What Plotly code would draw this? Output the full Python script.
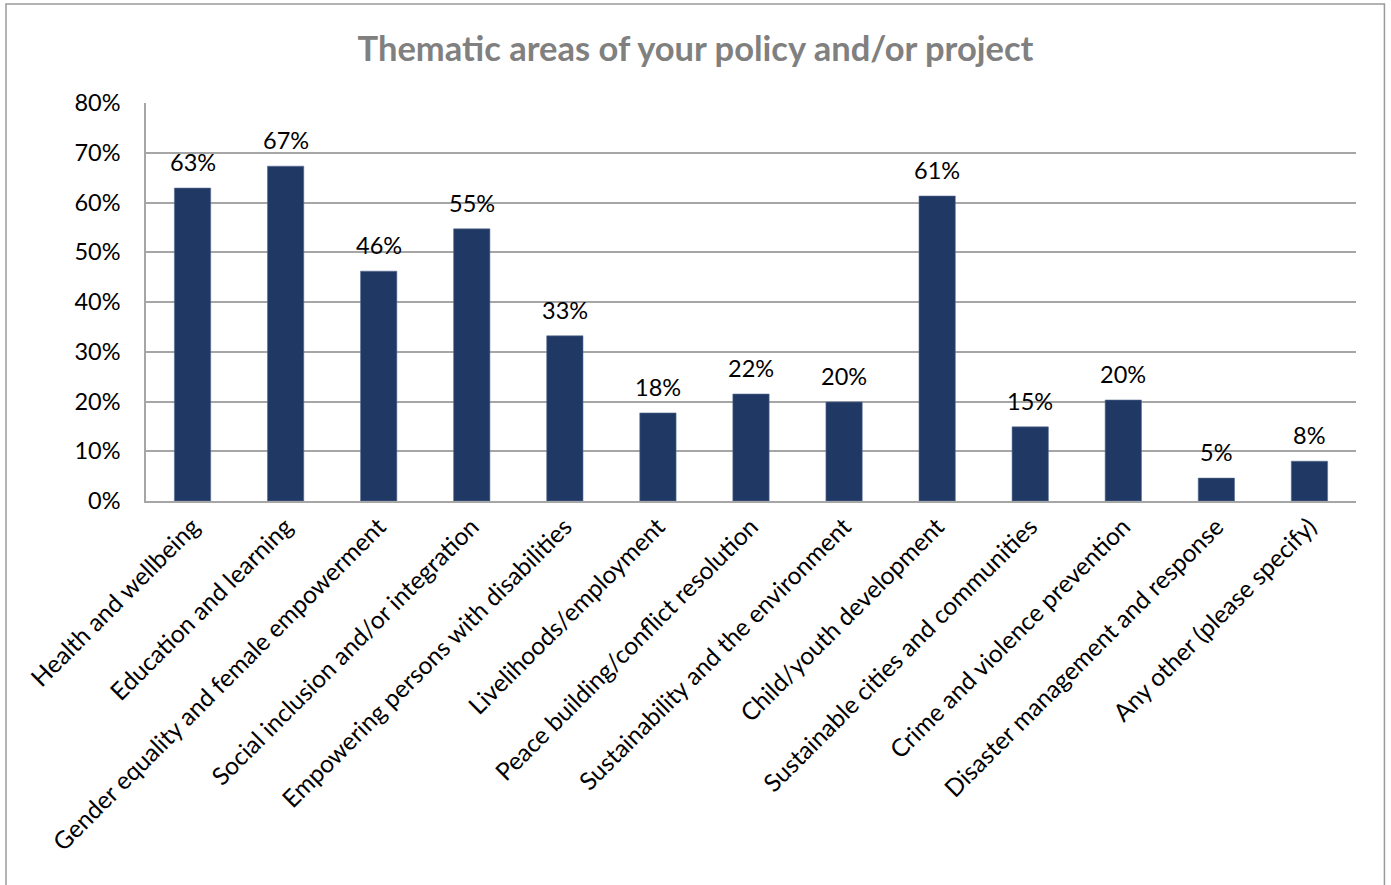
import plotly.graph_objects as go

categories = [
    "Health and wellbeing",
    "Education and learning",
    "Gender equality and female empowerment",
    "Social inclusion and/or integration",
    "Empowering persons with disabilities",
    "Livelihoods/employment",
    "Peace building/conflict resolution",
    "Sustainability and the environment",
    "Child/youth development",
    "Sustainable cities and communities",
    "Crime and violence prevention",
    "Disaster management and response",
    "Any other (please specify)",
]
shares = [0.629, 0.673, 0.462, 0.547, 0.332, 0.177, 0.215, 0.199,
          0.613, 0.149, 0.203, 0.046, 0.080]
y_ticks = [0, 0.1, 0.2, 0.3, 0.4, 0.5, 0.6, 0.7, 0.8]

FONT = "Lato, 'Open Sans', sans-serif"
BAR = "#203864"
GRID = "#A6A6A6"

fig = go.Figure(
    go.Bar(
        x=categories,
        y=shares,
        marker=dict(color=BAR, line=dict(color="#5a6f94", width=0.6)),
        width=0.39,
        hoverinfo="x+y",
    )
)

# value labels above each bar
for c, v in zip(categories, shares):
    fig.add_annotation(
        x=c, y=v, text=f"{round(v * 100):.0f}%", showarrow=False,
        yanchor="bottom", yshift=10,
        font=dict(family=FONT, size=23.5, color="#000000"),
    )

# outer chart frame
fig.add_shape(
    type="rect", xref="paper", yref="paper",
    x0=-0.1157, x1=1.0235, y0=-1.2, y1=1.2487,
    line=dict(color="#9a9a9a", width=1.5), fillcolor="rgba(0,0,0,0)",
    layer="below",
)

fig.update_layout(
    width=1391, height=885,
    margin=dict(l=146, r=35, t=103, b=384),
    paper_bgcolor="white", plot_bgcolor="white",
    font=dict(family=FONT, size=23, color="#000000"),
    title=dict(
        text="<b>Thematic areas of your policy and/or project</b>",
        x=0.5, xanchor="center", y=0.945, yanchor="middle",
        font=dict(family=FONT, size=34.5, color="#808080"),
    ),
    showlegend=False,
    bargap=0.61,
)
fig.update_yaxes(
    range=[0, 0.8], tickvals=y_ticks, tickformat=".0%",
    showgrid=True, gridcolor=GRID, gridwidth=1.5,
    showline=True, linecolor=GRID, linewidth=1.5,
    ticks="", ticklabelstandoff=19,
    tickfont=dict(family=FONT, size=23.5, color="#000000"),
    zeroline=False, fixedrange=True,
)
fig.update_xaxes(
    showline=True, linecolor=GRID, linewidth=1.5,
    tickangle=-45, ticks="",
    tickfont=dict(family=FONT, size=24.5, color="#000000"),
    fixedrange=True,
)

fig.write_html("out.html")
